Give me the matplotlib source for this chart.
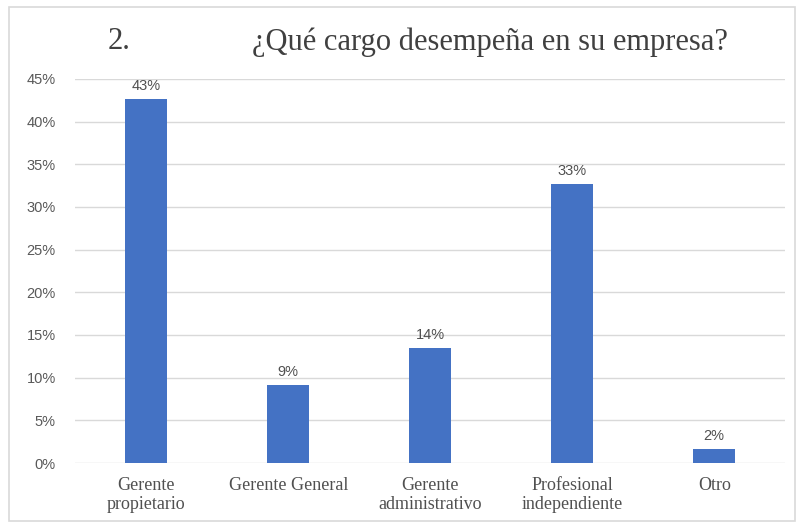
import matplotlib.pyplot as plt
from matplotlib.patches import Rectangle
from matplotlib.ticker import PercentFormatter

categories = ["Gerente\npropietario", "Gerente General", "Gerente\nadministrativo",
              "Profesional\nindependiente", "Otro"]
shares = [0.427, 0.091, 0.135, 0.327, 0.016]
yticks = [0, 0.05, 0.10, 0.15, 0.20, 0.25, 0.30, 0.35, 0.40, 0.45]

fig = plt.figure(figsize=(8, 5.24), dpi=100)
ax = fig.add_axes([0.094, 0.1164, 0.8875, 0.733])

x = range(len(categories))
bars = ax.bar(x, shares, width=0.3, color="#4472c4", zorder=3)

for b, v in zip(bars, shares):
    ax.text(b.get_x() + b.get_width() / 2, v + 0.007, f"{v:.0%}",
            ha="center", va="bottom", fontsize=10.5, color="#505050",
            family="Liberation Sans")

ax.set_xlim(-0.5, len(categories) - 0.5)
ax.set_ylim(0, 0.45)
ax.set_yticks(yticks)
ax.yaxis.set_major_formatter(PercentFormatter(1.0, decimals=0))
ax.set_xticks(list(x))
ax.set_xticklabels(categories, family="Liberation Serif", fontsize=13,
                   color="#505050", linespacing=1.2)
ax.tick_params(axis="both", length=0)
ax.tick_params(axis="x", pad=10)
ax.tick_params(axis="y", labelsize=10.5, labelcolor="#595959", pad=14)
for lbl in ax.get_yticklabels():
    lbl.set_family("Liberation Sans")

ax.grid(axis="y", color="#d9d9d9", linewidth=1, zorder=0)
for s in ax.spines.values():
    s.set_visible(False)

fig.text(0.135, 0.92, "2.", family="Liberation Serif", fontsize=22,
         color="#404040", ha="left", va="center")
fig.text(0.613, 0.92, "¿Qué cargo desempeña en su empresa?",
         family="Liberation Serif", fontsize=22, color="#404040",
         ha="center", va="center")

# light frame around the chart area
fig.patches.append(Rectangle((0.011, 0.006), 0.983, 0.98, transform=fig.transFigure,
                             fill=False, edgecolor="#d9d9d9", linewidth=1.2))

fig.savefig("out.png", dpi=100)
